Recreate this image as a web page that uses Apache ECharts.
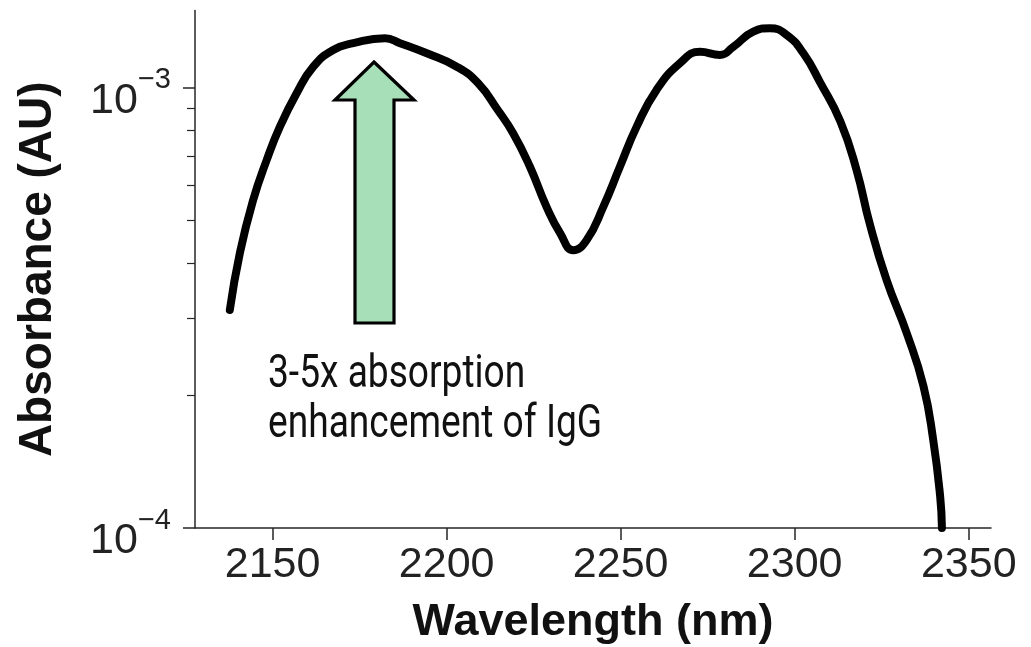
<!DOCTYPE html>
<html>
<head>
<meta charset="utf-8">
<title>Absorbance spectrum</title>
<script src="https://cdn.jsdelivr.net/npm/echarts@6.0.0/dist/echarts.min.js"></script>
<style>
    html, body { margin: 0; padding: 0; background: #fff; }
    #chart { width: 1031px; height: 647px; }
</style>
</head>
<body>
<div id="chart"></div>
<script>
// wavelength (nm)
var wavelength = [2137.7, 2140.6, 2144.4, 2148.3, 2152.1, 2156.9, 2161.7, 2167.4, 2173.2, 2182.3,
    2186.6, 2194.3, 2202.9, 2209.0, 2214.7, 2219.1, 2223.9, 2228.7, 2232.6, 2236.4,
    2240.2, 2245.0, 2249.8, 2254.6, 2260.3, 2267.0, 2272.8, 2278.5, 2282.4, 2288.1,
    2292.9, 2297.7, 2302.5, 2307.3, 2313.1, 2317.8, 2321.6, 2326.4, 2332.2, 2337.0,
    2339.8, 2341.8, 2342.3];
// absorbance (AU)
var absorbance = [3.13e-4, 4.22e-4, 5.56e-4, 6.86e-4, 8.17e-4, 9.73e-4, 1.118e-3, 1.220e-3, 1.264e-3, 1.297e-3,
    1.264e-3, 1.199e-3, 1.118e-3, 1.026e-3, 8.91e-4, 7.89e-4, 6.63e-4, 5.37e-4, 4.68e-4, 4.28e-4,
    4.51e-4, 5.37e-4, 6.63e-4, 8.17e-4, 9.90e-4, 1.138e-3, 1.209e-3, 1.189e-3, 1.241e-3, 1.343e-3,
    1.367e-3, 1.320e-3, 1.199e-3, 1.030e-3, 8.40e-4, 6.50e-4, 4.90e-4, 3.66e-4, 2.77e-4, 2.10e-4,
    1.585e-4, 1.178e-4, 1.0e-4];

var xTicks = [2150, 2200, 2250, 2300, 2350];
var yMajorTicks = [1e-4, 1e-3];
var yMinorTicks = [2e-4, 3e-4, 4e-4, 5e-4, 6e-4, 7e-4, 8e-4, 9e-4];
var noteLines = ['3-5x absorption', 'enhancement of IgG'];

var axisColor = '#262626';
var labelFont = '"Liberation Sans", Arial, sans-serif';

var chart = echarts.init(document.getElementById('chart'), null, { renderer: 'canvas' });

var seriesData = [];
for (var i = 0; i < wavelength.length; i++) {
    seriesData.push([wavelength[i], absorbance[i]]);
}

function expLabel(v) {
    var e = Math.round(Math.log(v) / Math.LN10);
    return '{b|10}{s|' + (e < 0 ? '\u2212' : '') + Math.abs(e) + '}';
}

var option = {
    animation: false,
    backgroundColor: '#fff',
    grid: {
        left: 195,
        right: 40,
        top: 10.5,
        bottom: 119,
        outerBoundsMode: 'none'
    },
    xAxis: {
        type: 'value',
        min: 2127.7,
        max: 2356.4,
        name: 'Wavelength (nm)',
        nameLocation: 'middle',
        nameGap: 72,
        nameTextStyle: { fontFamily: labelFont, fontWeight: 'bold', fontSize: 45, color: '#111' },
        axisLine: { onZero: false, lineStyle: { color: axisColor, width: 1.5 } },
        axisTick: { customValues: xTicks, length: 12, lineStyle: { color: axisColor, width: 1.5 } },
        axisLabel: {
            customValues: xTicks,
            margin: 16,
            formatter: function(v) { return String(v); },
            fontFamily: labelFont,
            fontSize: 43,
            color: '#222'
        },
        splitLine: { show: false }
    },
    yAxis: [{
        type: 'log',
        logBase: 10,
        min: 1e-4,
        max: 1.5e-3,
        position: 'left',
        name: 'Absorbance (AU)',
        nameLocation: 'middle',
        nameGap: 134,
        nameRotate: 90,
        nameTextStyle: { fontFamily: labelFont, fontWeight: 'bold', fontSize: 46, color: '#111' },
        axisLine: { show: true, lineStyle: { color: axisColor, width: 1.5 } },
        axisTick: { show: true, customValues: yMajorTicks, length: 12, lineStyle: { color: axisColor, width: 1.5 } },
        axisLabel: {
            customValues: yMajorTicks,
            margin: 24,
            formatter: expLabel,
            rich: {
                b: { fontFamily: labelFont, fontSize: 43, lineHeight: 44, padding: [26, 0, 0, 0], color: '#222' },
                s: { fontFamily: labelFont, fontSize: 29, lineHeight: 28, verticalAlign: 'top', color: '#222' }
            }
        },
        splitLine: { show: false }
    }, {
        // minor ticks of the log axis
        type: 'log',
        logBase: 10,
        min: 1e-4,
        max: 1.5e-3,
        position: 'left',
        offset: 0,
        axisLine: { show: false },
        axisTick: { show: true, customValues: yMinorTicks, length: 8, lineStyle: { color: axisColor, width: 1.2 } },
        axisLabel: { show: false },
        splitLine: { show: false }
    }],
    series: [{
        type: 'line',
        data: seriesData,
        yAxisIndex: 0,
        smooth: 0.5,
        showSymbol: false,
        symbol: 'none',
        lineStyle: { color: '#000', width: 8, cap: 'round', join: 'round' },
        silent: true
    }],
    graphic: [{
        type: 'polygon',
        shape: {
            points: [[374, 62], [414, 100], [394, 100], [394, 323], [355, 323], [355, 100], [335, 100]]
        },
        style: { fill: '#a6dfb8', stroke: '#000', lineWidth: 3.2, lineJoin: 'miter' }
    }, {
        type: 'text',
        x: 268,
        y: 375,
        scaleX: 0.79,
        style: {
            text: noteLines[0],
            font: '47px Roboto, sans-serif',
            fill: '#111',
            verticalAlign: 'middle'
        }
    }, {
        type: 'text',
        x: 268,
        y: 425,
        scaleX: 0.79,
        style: {
            text: noteLines[1],
            font: '47px Roboto, sans-serif',
            fill: '#111',
            verticalAlign: 'middle'
        }
    }]
};

chart.setOption(option, true);
</script>
</body>
</html>
